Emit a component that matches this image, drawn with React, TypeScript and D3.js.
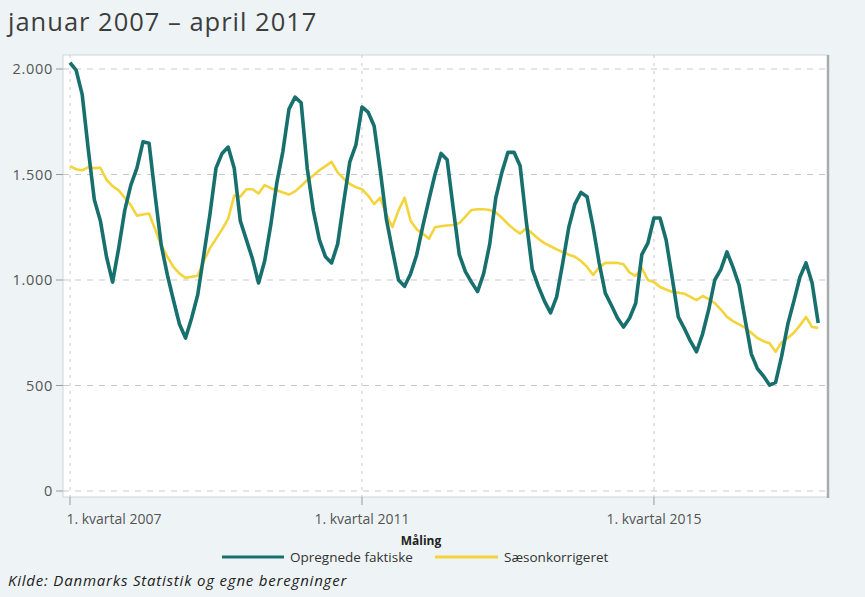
import React from 'react';
import * as d3 from 'd3';

const title = 'januar 2007 – april 2017';
const source = 'Kilde: Danmarks Statistik og  egne beregninger';
const legendTitle = 'Måling';
const seriesNames = ['Opregnede faktiske', 'Sæsonkorrigeret'];

const xTickMonths = [0, 48, 96];
const xTickLabels = ['1. kvartal 2007', '1. kvartal 2011', '1. kvartal 2015'];
const yTicks = [0, 500, 1000, 1500, 2000];
const yTickLabels = ['0', '500', '1.000', '1.500', '2.000'];

// Monthly values, January 2007 .. April 2017
const opregnede = [
  2030, 1995, 1880, 1620, 1380, 1280, 1110, 990, 1150, 1330, 1450, 1530,
  1655, 1648, 1400, 1165, 1025, 905, 790, 725, 820, 930, 1120, 1310,
  1530, 1600, 1630, 1530, 1280, 1190, 1100, 986, 1090, 1260, 1460, 1610,
  1810, 1867, 1840, 1530, 1330, 1190, 1110, 1081, 1170, 1370, 1560, 1640,
  1820, 1796, 1730, 1520, 1290, 1142, 1000, 970, 1030, 1120, 1255, 1380,
  1500, 1600, 1570, 1340, 1120, 1040, 990, 945, 1030, 1170, 1390, 1510,
  1605, 1605, 1540, 1280, 1050, 970, 900, 844, 920, 1080, 1250, 1360,
  1415, 1395, 1250, 1080, 938, 880, 820, 777, 820, 890, 1120, 1175,
  1294, 1294, 1190, 1010, 825, 770, 710, 660, 745, 860, 1000, 1050,
  1133, 1060, 975, 810, 650, 580, 545, 502, 515, 640, 790, 900,
  1014, 1081, 986, 796,
];
const saeson = [
  1540, 1525, 1520, 1535, 1530, 1532, 1475, 1445, 1425, 1390, 1355, 1305,
  1310, 1315, 1240, 1165, 1110, 1062, 1030, 1010, 1015, 1020, 1090, 1150,
  1195, 1240, 1290, 1400, 1395, 1430, 1430, 1410, 1450, 1435, 1425, 1415,
  1405, 1420, 1445, 1474, 1495, 1520, 1540, 1560, 1510, 1480, 1455, 1440,
  1430, 1400, 1360, 1390, 1310, 1251, 1330, 1390, 1280, 1240, 1220, 1195,
  1250, 1255, 1258, 1261, 1270, 1300, 1332, 1335, 1335, 1332, 1320, 1295,
  1265, 1240, 1220, 1245, 1220, 1195, 1175, 1160, 1145, 1133, 1120, 1110,
  1090, 1062, 1024, 1060, 1081, 1081, 1081, 1075, 1035, 1020, 1057, 1000,
  990, 967, 955, 943, 940, 935, 920, 905, 924, 910, 890, 860,
  825, 805, 790, 773, 750, 725, 710, 700, 660, 705, 725, 750,
  785, 825, 777, 773,
];

const W = 865;
const H = 597;
const bg = '#eef4f6';
const green = '#17706d';
const yellow = '#f3d43c';
const font = "'Open Sans', 'Liberation Sans', Arial, sans-serif";

export default function App() {
  const plot = { left: 63, right: 828, top: 55, bottom: 497 };
  const x = d3.scaleLinear().domain([0, opregnede.length - 1]).range([70, 818.2]);
  const y = d3.scaleLinear().domain([0, 2000]).range([491, 69]);
  const line = d3
    .line<number>()
    .x((_, i) => x(i))
    .y((d) => y(d));

  return (
    <svg
      width={W}
      height={H}
      style={{ position: 'absolute', left: 0, top: 0, display: 'block' }}
      fontFamily={font}
    >
      <rect x={0} y={0} width={W} height={H} fill={bg} />
      <text x={8} y={31} fontSize={25.5} letterSpacing={1} fill="#3d3d3d" fontFamily={font}>
        {title}
      </text>
      <rect
        x={plot.left}
        y={plot.top}
        width={plot.right - plot.left}
        height={plot.bottom - plot.top}
        fill="#fff"
        stroke="#cfd3d5"
        strokeWidth={1}
      />
      <line x1={plot.right} x2={plot.right} y1={plot.top} y2={plot.bottom + 1} stroke="#a9abad" strokeWidth={2.5} />
      {yTicks.map((t, i) => (
        <g key={'y' + t}>
          <line
            x1={plot.left}
            x2={plot.right}
            y1={y(t)}
            y2={y(t)}
            stroke="#c9c9c9"
            strokeWidth={1}
            strokeDasharray="6,6"
          />
          <line x1={plot.left - 7} x2={plot.left} y1={y(t)} y2={y(t)} stroke="#9a9a9a" strokeWidth={1} />
          <text x={plot.left - 10} y={y(t)} dy="0.35em" textAnchor="end" fontSize={14.5} letterSpacing={0.7} fill="#555">
            {yTickLabels[i]}
          </text>
        </g>
      ))}
      {xTickMonths.map((m, i) => {
        const xp = x(m);
        const half = 49;
        const cx = Math.max(xp, plot.left + 2 + half);
        return (
          <g key={'x' + m}>
            <line
              x1={xp}
              x2={xp}
              y1={plot.top}
              y2={plot.bottom}
              stroke="#c9c9c9"
              strokeWidth={1}
              strokeDasharray="3,5"
            />
            <line x1={xp} x2={xp} y1={plot.bottom} y2={plot.bottom + 8} stroke="#9a9a9a" strokeWidth={1} />
            <text x={cx} y={plot.bottom + 27} textAnchor="middle" fontSize={14} fill="#555">
              {xTickLabels[i]}
            </text>
          </g>
        );
      })}
      <path d={line(saeson) || ''} fill="none" stroke={yellow} strokeWidth={2.6} strokeLinejoin="round" />
      <path d={line(opregnede) || ''} fill="none" stroke={green} strokeWidth={3.6} strokeLinejoin="round" />

      <text x={421} y={545} textAnchor="middle" fontSize={12} fontWeight="bold" fill="#222">
        {legendTitle}
      </text>
      <line x1={222} x2={284} y1={557} y2={557} stroke={green} strokeWidth={3} />
      <text x={290} y={562} fontSize={13.5} fill="#333">
        {seriesNames[0]}
      </text>
      <line x1={435} x2={498} y1={557} y2={557} stroke={yellow} strokeWidth={3} />
      <text x={504} y={562} fontSize={13.5} fill="#333">
        {seriesNames[1]}
      </text>
      <text x={8} y={586} fontSize={15} letterSpacing={0.8} fontStyle="italic" fill="#222">
        {source}
      </text>
    </svg>
  );
}
